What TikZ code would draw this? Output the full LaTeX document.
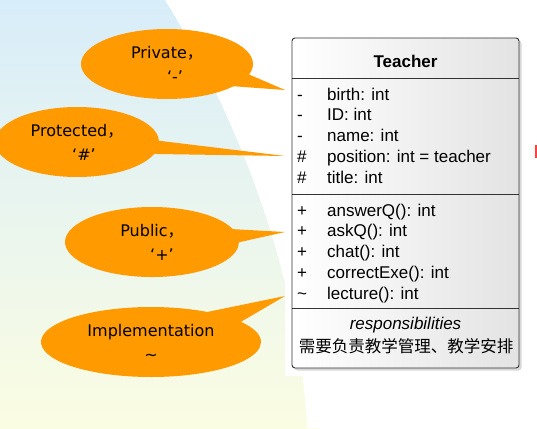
\documentclass[tikz,border=0pt]{standalone}
\usepackage{fontspec}
\setmainfont{Liberation Sans}
\newfontfamily\cjk{Noto Sans CJK SC}
\newfontfamily\bubblefont{DejaVu Sans}
\usetikzlibrary{shapes.callouts,shadows}
\definecolor{bgblue}{RGB}{216,237,250}
\definecolor{bgmint}{RGB}{238,248,238}
\definecolor{bgyellow}{RGB}{251,253,226}
\definecolor{bubbleorange}{RGB}{255,154,0}
\tikzset{
  bubble/.style={ellipse callout, fill=bubbleorange, inner sep=0pt, minimum height=70pt,
    callout pointer arc=22, align=center, font=\bubblefont\fontsize{16}{24}\selectfont},
  classbox/.style={draw=black!80, line width=0.9pt, rounded corners=3pt, left color=white, right color=gray!22,
    drop shadow={shadow xshift=2.5pt, shadow yshift=-2.5pt, fill=gray!60, opacity=.5}},
  member/.style={anchor=base west, inner sep=0pt, font=\fontsize{17}{20}\selectfont},
  sepline/.style={draw=black!80, line width=0.9pt}
}
\begin{document}
\begin{tikzpicture}[x=1pt, y=-1pt]
	\useasboundingbox (0,0) rectangle (537,428);
	% fond en degrade, a gauche, puis le blanc a droite de l'arc
	\shade[top color=bgblue, middle color=bgmint, bottom color=bgyellow] (0,0) rectangle (320,428);
	\fill[white] (165,0) .. controls (240,120) and (300,280) .. (307,428) -- (537,428) -- (537,0) -- cycle;
	\fill[white] (285,0) rectangle (537,376);
	\fill[red!75] (535,145) rectangle (537,158);
	% la classe Teacher
	\node[classbox, minimum width=227pt, minimum height=330pt] (teacher) at (405.5,203) {};
	\node[font=\bfseries\fontsize{17}{20}\selectfont] (title) at (405.5,61) {Teacher};
	\draw[sepline] (teacher.west |- 0,78) -- (teacher.east |- 0,78);
	\draw[sepline] (teacher.west |- 0,194) -- (teacher.east |- 0,194);
	\draw[sepline] (teacher.west |- 0,308) -- (teacher.east |- 0,308);
	% attributs
	\foreach \sym/\txt [count=\i] in {-/birth: int, -/ID: int, -/name: int,
		\#/position: int = teacher, \#/title: int} {
		\node[member] (asym\i) at (297,{79.25+20.75*\i}) {\sym};
		\node[member] (attr\i) at (327,{79.25+20.75*\i}) {\txt};
	}
	% operations
	\foreach \sym/\txt [count=\i] in {+/answerQ(): int, +/askQ(): int, +/chat(): int,
		+/correctExe(): int, \textasciitilde/lecture(): int} {
		\node[member] (msym\i) at (297,{195.25+20.75*\i}) {\sym};
		\node[member] (meth\i) at (327,{195.25+20.75*\i}) {\txt};
	}
	\node[font=\itshape\fontsize{17}{20}\selectfont] (resp) at (405.5,325) {responsibilities};
	\node[font=\cjk\fontsize{16.5}{20}\selectfont] (duty) at (406,346) {需要负责教学管理、教学安排};
	% les bulles
	\coordinate (tipPrivate) at (285,90);
	\coordinate (tipProtected) at (285,156);
	\coordinate (tipPublic) at (285,232);
	\coordinate (tipImpl) at (285,296);
	\node[bubble, minimum width=172pt, callout absolute pointer={(tipPrivate)}] (private) at (167,64)
		{Private{\cjk ，}\\\hspace*{16pt}‘-’};
	\node[bubble, minimum width=164pt, callout absolute pointer={(tipProtected)}] (protected) at (77,142)
		{Protected{\cjk ，}\\\hspace*{14pt}‘\#’};
	\node[bubble, minimum width=174pt, callout absolute pointer={(tipPublic)}] (public) at (152,242)
		{Public{\cjk ，}\\\hspace*{20pt}‘+’};
	\node[bubble, minimum width=220pt, callout pointer arc=24, callout absolute pointer={(tipImpl)}] (impl) at (151,342)
		{Implementation\\\textasciitilde};
\end{tikzpicture}
\end{document}
